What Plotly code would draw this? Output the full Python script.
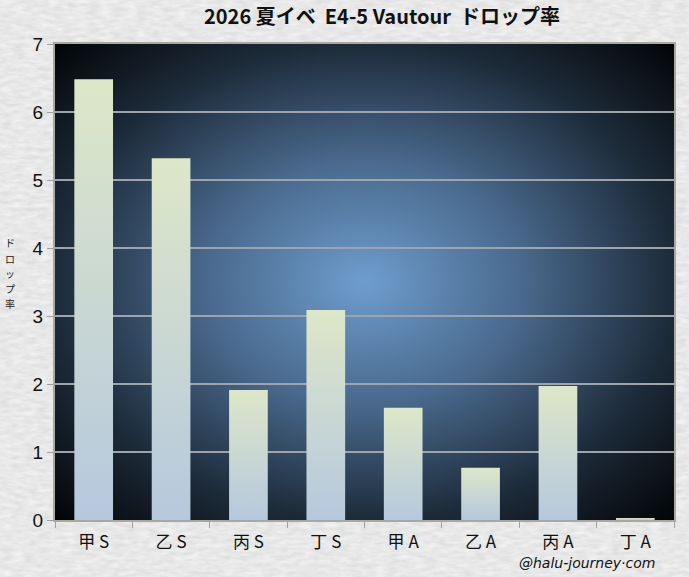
import plotly.graph_objects as go
import base64

categories = ["甲 S", "乙 S", "丙 S", "丁 S", "甲 A", "乙 A", "丙 A", "丁 A"]
drop_rates = [6.48, 5.32, 1.91, 3.09, 1.65, 0.77, 1.97, 0.03]
y_ticks = [0, 1, 2, 3, 4, 5, 6, 7]

title_text = "2026 夏イベ  E4-5 Vautour  ドロップ率"
y_label = "ドロップ率"
credit = "@halu-journey·com"

half_w = 0.25

fig = go.Figure()

for i, (cat, v) in enumerate(zip(categories, drop_rates)):
    fig.add_trace(go.Scatter(
        x=[i - half_w, i + half_w, i + half_w, i - half_w, i - half_w],
        y=[0, 0, v, v, 0],
        mode="lines",
        fill="toself",
        line=dict(width=0, color="rgba(0,0,0,0)"),
        fillgradient=dict(type="vertical",
                          colorscale=[[0, "#b6c8de"], [1, "#dde7c8"]]),
        name=cat,
        hovertemplate=f"{cat}: {v}<extra></extra>",
        showlegend=False,
    ))

radial_svg = """<svg xmlns='http://www.w3.org/2000/svg' width='620' height='476' preserveAspectRatio='none'>
<defs><radialGradient id='g' cx='0.5' cy='0.5' r='0.72'>
<stop offset='0' stop-color='#6e9dcd'/>
<stop offset='0.35' stop-color='#4a6a8e'/>
<stop offset='0.7' stop-color='#1c2a38'/>
<stop offset='1' stop-color='#010203'/>
</radialGradient></defs>
<rect width='620' height='476' fill='url(#g)'/></svg>"""

paper_svg = """<svg xmlns='http://www.w3.org/2000/svg' width='689' height='577'>
<filter id='n'><feTurbulence type='fractalNoise' baseFrequency='0.08 0.25' numOctaves='3' seed='4'/>
<feColorMatrix type='matrix' values='0 0 0 0 1  0 0 0 0 1  0 0 0 0 1  0 0 0 -0.9 0.75'/></filter>
<rect width='689' height='577' fill='#dedede'/>
<rect width='689' height='577' filter='url(#n)'/></svg>"""

def uri(s):
    return "data:image/svg+xml;base64," + base64.b64encode(s.encode()).decode()

L, R, T, B = 55, 15, 44, 57
W, H = 689, 577
pw, ph = W - L - R, H - T - B

fig.add_layout_image(dict(
    source=uri(paper_svg), xref="paper", yref="paper",
    x=-L / pw, y=1 + T / ph, sizex=W / pw, sizey=H / ph,
    sizing="stretch", layer="below", xanchor="left", yanchor="top"))
fig.add_layout_image(dict(
    source=uri(radial_svg), xref="paper", yref="paper",
    x=0, y=1, sizex=1, sizey=1,
    sizing="stretch", layer="below", xanchor="left", yanchor="top"))

annotations = []
for k, ch in enumerate(y_label):
    ypix = 243 + 15 * k  # pixel from top of figure
    annotations.append(dict(
        text=ch, xref="paper", yref="paper",
        x=-45 / pw, y=(H - B - ypix) / ph, yanchor="middle",
        xanchor="center", showarrow=False,
        font=dict(family="Noto Sans CJK JP", size=10, color="#222222")))
annotations.append(dict(
    text="<i>" + credit + "</i>", xref="paper", yref="paper",
    x=(657 - L) / pw, y=-(563 - (H - B)) / ph, xanchor="right", yanchor="middle",
    showarrow=False,
    font=dict(family="DejaVu Sans", size=14, color="#111111")))

fig.update_layout(
    width=W, height=H,
    margin=dict(l=L, r=R, t=T, b=B),
    paper_bgcolor="#dedede",
    plot_bgcolor="rgba(0,0,0,0)",
    title=dict(text="<b>" + title_text + "</b>", x=382 / W, xanchor="center",
               y=1 - 17 / H, yanchor="middle",
               font=dict(family="Noto Sans CJK JP", size=20, color="#111111")),
    xaxis=dict(range=[-0.5, len(categories) - 0.5],
               tickvals=list(range(len(categories))), ticktext=categories,
               ticks="", showgrid=False, zeroline=False,
               showline=True, linecolor="#a8a8a0", linewidth=2, mirror=True,
               ticklabelstandoff=6,
               tickfont=dict(family="Noto Sans CJK JP", size=17, color="#111111"),
               minor=dict(tickvals=[i - 0.5 for i in range(len(categories) + 1)],
                          ticks="outside", ticklen=6, tickcolor="#a0a0a0",
                          tickwidth=1, showgrid=False),
               fixedrange=True),
    yaxis=dict(range=[0, 7], tickvals=y_ticks, ticks="outside", ticklen=6,
               tickcolor="#a0a0a0", showgrid=True, gridcolor="#9ea4aa",
               gridwidth=1.5, zeroline=False,
               showline=True, linecolor="#a8a8a0", linewidth=2, mirror=True,
               tickfont=dict(family="Liberation Sans", size=19, color="#111111"),
               fixedrange=True),
    annotations=annotations,
)

fig.write_html("out.html", config={"displayModeBar": False},
               post_script="document.body.style.margin='0';document.body.style.overflow='hidden';")
